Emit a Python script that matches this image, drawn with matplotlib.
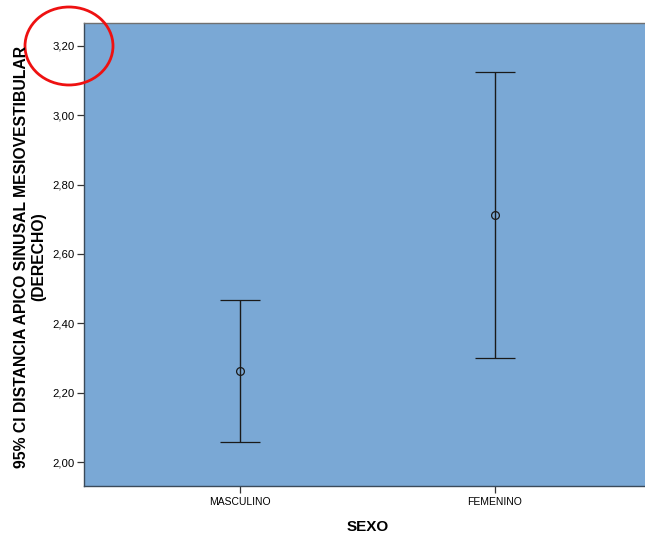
import matplotlib

matplotlib.use("Agg")

import matplotlib.pyplot as plt
from matplotlib.patches import Ellipse
from matplotlib.ticker import FixedLocator, FuncFormatter
import numpy as np

# mean and 95% confidence limits per group
categories = ["MASCULINO", "FEMENINO"]
means = [2.263, 2.713]
ci_lower = [2.058, 2.300]
ci_upper = [2.467, 3.125]
y_ticks = [2.00, 2.20, 2.40, 2.60, 2.80, 3.00, 3.20]

plt.rcParams["font.family"] = ["Liberation Sans", "DejaVu Sans"]

W, H = 645, 537
fig = plt.figure(figsize=(W / 100, H / 100), dpi=100)
fig.patch.set_facecolor("white")

# plot area runs slightly past the right edge of the canvas
ax = fig.add_axes([84 / W, (H - 486) / H, (651 - 84) / W, (486 - 23) / H])
ax.set_facecolor("#7AA8D5")

x = np.arange(len(categories))
means = np.asarray(means)
yerr = np.vstack([means - np.asarray(ci_lower), np.asarray(ci_upper) - means])

ax.errorbar(
    x,
    means,
    yerr=yerr,
    fmt="o",
    markersize=5.6,
    markerfacecolor="none",
    markeredgecolor="#1a1a1a",
    markeredgewidth=0.9,
    ecolor="#1a1a1a",
    elinewidth=1.0,
    capsize=14.5,
    capthick=1.2,
)

ax.set_xlim(-0.612, 1.612)
ax.set_ylim(1.931, 3.266)
ax.set_xticks(x)
ax.set_xticklabels(categories, fontsize=7.5)
ax.yaxis.set_major_locator(FixedLocator(y_ticks))
ax.yaxis.set_major_formatter(FuncFormatter(lambda v, _pos: f"{v:.2f}".replace(".", ",")))
ax.tick_params(axis="y", labelsize=8.2, length=5, width=0.9, color="#333333", pad=2)
ax.tick_params(axis="x", length=5, width=0.9, color="#333333", pad=3)

for side in ("left", "bottom", "top", "right"):
    ax.spines[side].set_color("#3a4a5a")
    ax.spines[side].set_linewidth(1.0)
ax.spines["top"].set_color("#707070")

ax.set_xlabel("SEXO", fontsize=11, fontweight="bold", labelpad=9)
fig.text(
    30 / W,
    1 - 257 / H,
    "95% CI DISTANCIA APICO SINUSAL MESIOVESTIBULAR\n(DERECHO)",
    rotation=90,
    ha="center",
    va="center",
    fontsize=11.3,
    fontweight="bold",
    linespacing=1.15,
)

# red highlight circle around the top tick label
fig.add_artist(
    Ellipse(
        (69 / W, 1 - 46 / H),
        88 / W,
        78 / H,
        transform=fig.transFigure,
        fill=False,
        edgecolor="#ee1111",
        linewidth=2.0,
    )
)

fig.savefig("out.png", dpi=100)
